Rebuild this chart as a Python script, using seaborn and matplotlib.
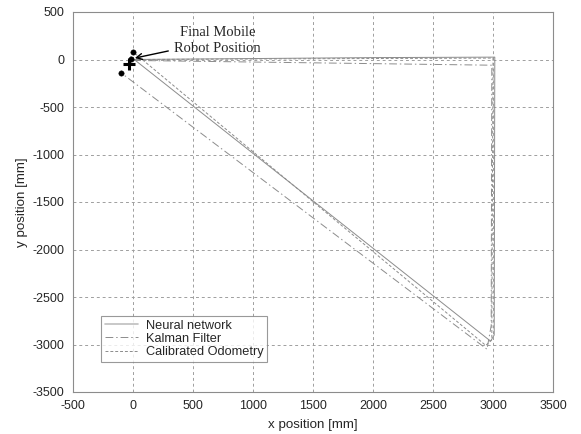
import matplotlib
matplotlib.use("Agg")
import seaborn as sns
from matplotlib import pyplot as plt

# trajectories (mm)
nn_x = [0, 1000, 2000, 3015, 3010, 2980, -20]
nn_y = [0, 10, 20, 25, -2900, -2965, 30]

kf_x = [0, 1500, 2990, 2985, 2950, -100]
kf_y = [-10, -35, -60, -2800, -3050, -140]

od_x = [0, 1500, 3000, 2990, 2940, 10]
od_y = [0, 8, 15, -2950, -3010, 70]

# final positions
dot_x = [-3, -19, -100]
dot_y = [76, 2, -139]
plus_x = [-30]
plus_y = [-50]

sns.set_style("white")
plt.rcParams['font.family'] = ['Liberation Sans', 'DejaVu Sans']
plt.rcParams['axes.unicode_minus'] = False

fig = plt.figure(figsize=(5.81, 4.34), dpi=100)
ax = fig.add_axes([73 / 581, 1 - 392 / 434, 480 / 581, 380 / 434])

line_col = '0.55'
sns.lineplot(x=nn_x, y=nn_y, sort=False, estimator=None, color=line_col,
             lw=0.7, ls='-', ax=ax, label='Neural network')
sns.lineplot(x=kf_x, y=kf_y, sort=False, estimator=None, color=line_col,
             lw=0.7, ax=ax, label='Kalman Filter')
ax.lines[-1].set_dashes([8, 3, 1.5, 3])
sns.lineplot(x=od_x, y=od_y, sort=False, estimator=None, color=line_col,
             lw=0.7, ax=ax, label='Calibrated Odometry')
ax.lines[-1].set_dashes([3, 2])

sns.scatterplot(x=dot_x, y=dot_y, color='black', s=15, edgecolor='black',
                ax=ax, legend=False, zorder=5)
sns.scatterplot(x=plus_x, y=plus_y, marker='+', color='black', s=80,
                linewidth=2.2, ax=ax, legend=False, zorder=5)

ax.annotate('Final Mobile\nRobot Position', xy=(15, 15), xytext=(705, 200),
            ha='center', va='center', fontsize=10.5,
            family=['Liberation Serif', 'DejaVu Serif'],
            arrowprops=dict(arrowstyle='->', color='black', lw=1.0,
                            shrinkA=2, shrinkB=0))

ax.set_xlim(-500, 3500)
ax.set_ylim(-3500, 500)
ax.set_xticks(range(-500, 3501, 500))
ax.set_yticks(range(-3500, 501, 500))
ax.grid(True, color='0.62', ls=(0, (3, 3)), lw=0.7)
for s in ax.spines.values():
    s.set_color('0.55')
    s.set_linewidth(0.8)
ax.tick_params(labelsize=9, length=0, pad=6)
ax.set_xlabel('x position [mm]', fontsize=9.6, labelpad=5)
ax.set_ylabel('y position [mm]', fontsize=9.6, labelpad=3)

leg = ax.legend(loc='lower left', bbox_to_anchor=(0.058, 0.079), fontsize=9.2,
                frameon=True, fancybox=False, handlelength=2.6,
                handletextpad=0.6, borderpad=0.3, labelspacing=0.1,
                borderaxespad=0)
leg.get_frame().set_edgecolor('0.5')
leg.get_frame().set_linewidth(0.8)
leg.legend_handles[0].set_color('0.75')
leg.legend_handles[0].set_linewidth(1.2)

fig.savefig('out.png', dpi=100)
